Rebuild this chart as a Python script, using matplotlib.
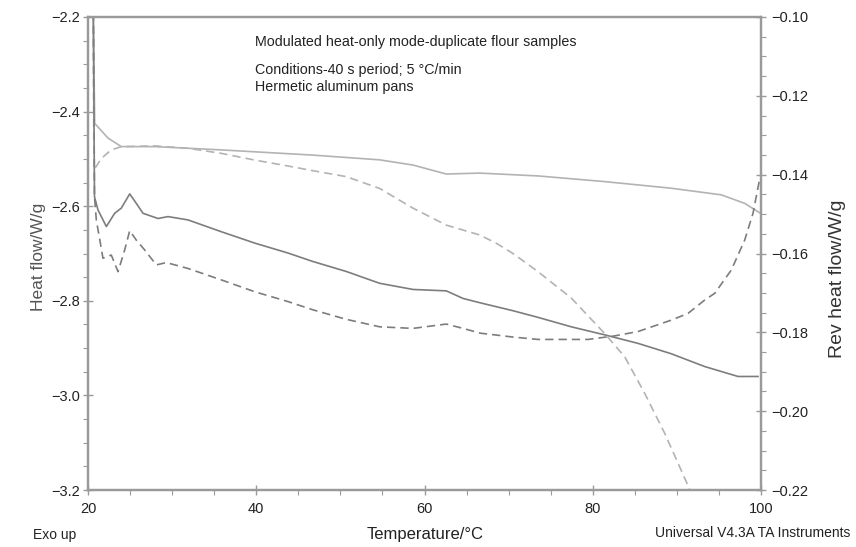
import matplotlib
matplotlib.use("Agg")
import matplotlib.pyplot as plt
from matplotlib.ticker import MultipleLocator

plt.rcParams['font.family'] = ['Liberation Sans', 'DejaVu Sans']

# ---- data ----
# Sample A, heat flow (left axis, solid light)
temp_hf_a = [20.55, 20.80, 22.38, 23.96, 27.93, 35.85, 46.75, 54.67, 58.63, 62.59,
             66.56, 73.49, 81.42, 89.34, 95.28, 98.06, 99.85]
hf_a = [-2.10, -2.425, -2.456, -2.474, -2.474, -2.481, -2.492, -2.502, -2.513, -2.532,
        -2.530, -2.536, -2.548, -2.562, -2.576, -2.594, -2.614]

# Sample B, heat flow (left axis, solid dark)
temp_hf_b = [20.60, 20.77, 21.19, 22.18, 23.17, 23.96, 24.96, 25.74, 26.54, 28.32,
             29.51, 31.89, 35.85, 39.82, 43.77, 46.75, 50.70, 54.67, 58.63, 62.59,
             64.58, 66.56, 70.52, 73.49, 77.45, 81.42, 85.38, 89.34, 93.31, 97.27, 99.64]
hf_b = [-2.10, -2.580, -2.608, -2.643, -2.615, -2.604, -2.574, -2.594, -2.615, -2.626,
        -2.622, -2.629, -2.654, -2.678, -2.699, -2.717, -2.738, -2.763, -2.776, -2.779,
        -2.795, -2.804, -2.821, -2.835, -2.855, -2.872, -2.890, -2.912, -2.939, -2.960, -2.960]

# Sample A, reversing heat flow (right axis, dashed light)
temp_rev_a = [20.58, 20.71, 21.58, 22.77, 23.96, 27.93, 31.89, 35.85, 39.82, 43.77,
              46.75, 50.70, 54.67, 58.63, 62.59, 66.56, 68.54, 70.52, 73.49, 77.45,
              81.42, 83.80, 86.18, 88.55, 90.14, 91.72]
rev_a = [-0.090, -0.1388, -0.1359, -0.1337, -0.1329, -0.1327, -0.1333, -0.1346, -0.1363, -0.1378,
         -0.1390, -0.1405, -0.1435, -0.1485, -0.1528, -0.1553, -0.1574, -0.1600, -0.1646, -0.1713,
         -0.1803, -0.1862, -0.1955, -0.2056, -0.2132, -0.2208]

# Sample B, reversing heat flow (right axis, dashed dark)
temp_rev_b = [20.62, 20.77, 20.99, 21.78, 22.77, 23.57, 24.36, 24.96, 25.74, 26.74,
              28.12, 29.31, 31.89, 35.85, 39.82, 43.77, 46.75, 50.70, 54.67, 58.63,
              62.59, 64.58, 66.60, 70.52, 73.49, 79.44, 82.61, 85.38, 89.34, 91.32,
              93.31, 94.50, 96.47, 98.06, 99.05, 99.85]
rev_b = [-0.090, -0.1456, -0.1515, -0.1612, -0.1604, -0.1646, -0.1591, -0.1542, -0.1566, -0.1591,
         -0.1629, -0.1623, -0.1638, -0.1667, -0.1697, -0.1722, -0.1743, -0.1767, -0.1786, -0.1790,
         -0.1779, -0.1790, -0.1802, -0.1812, -0.1818, -0.1818, -0.1809, -0.1798, -0.1769, -0.1752,
         -0.1718, -0.1701, -0.1642, -0.1566, -0.1498, -0.1410]

x_ticks = [20, 40, 60, 80, 100]
left_ticks = [-2.2, -2.4, -2.6, -2.8, -3.0, -3.2]
right_ticks = [-0.10, -0.12, -0.14, -0.16, -0.18, -0.20, -0.22]

notes = ["Modulated heat-only mode-duplicate flour samples",
         "Conditions-40 s period; 5 \u00b0C/min",
         "Hermetic aluminum pans"]

# ---- figure ----
W, H = 856, 547
fig = plt.figure(figsize=(W/100, H/100), dpi=100)
ax = fig.add_axes([88/W, 1-490/H, (761-88)/W, (490-17)/H])
ax2 = ax.twinx()

light = '#b3b3b3'
dark = '#7d7d7d'
dash = (0, (5, 3))

ax.plot(temp_hf_a, hf_a, color=light, lw=1.2, zorder=3)
ax.plot(temp_hf_b, hf_b, color=dark, lw=1.2, zorder=3)
ax2.plot(temp_rev_a, rev_a, color=light, lw=1.2, ls=dash)
ax2.plot(temp_rev_b, rev_b, color=dark, lw=1.2, ls=dash)

ax.set_xlim(20, 100)
ax.set_ylim(-3.2, -2.2)
ax2.set_ylim(-0.22, -0.10)

ax.set_xticks(x_ticks)
ax.set_yticks(left_ticks)
ax.set_yticklabels([f"{t:.1f}".replace('-', '\u2212') for t in left_ticks])
ax2.set_yticks(right_ticks)
ax2.set_yticklabels([f"{t:.2f}".replace('-', '\u2212') for t in right_ticks])
ax.xaxis.set_minor_locator(MultipleLocator(5))
ax.yaxis.set_minor_locator(MultipleLocator(0.05))
ax2.yaxis.set_minor_locator(MultipleLocator(0.005))

spine_c = '#9a9a9a'
for a in (ax, ax2):
    for s in a.spines.values():
        s.set_color(spine_c)
        s.set_linewidth(1.6)
    a.tick_params(which='major', direction='inout', length=7, width=1.0, color=spine_c,
                  labelsize=10.5, labelcolor='#222222', pad=2.5)
    a.tick_params(which='minor', direction='out', length=3.5, width=0.8, color=spine_c)
ax.tick_params(axis='x', pad=5)
ax2.tick_params(axis='y', pad=4)

fig.text(39/W, 1-257/H, "Heat flow/W/g", fontsize=12.5, rotation=90, ha='center', va='center',
         color='#555555')
fig.text(838/W, 1-279/H, "Rev heat flow/W/g", fontsize=14, rotation=90, ha='center',
         va='center', color='#333333')

fig.text(425/W, 1-535/H, "Temperature/\u00b0C", fontsize=12, ha='center', va='center',
         color='#222222')
fig.text(33/W, 1-535/H, "Exo up", fontsize=10, ha='left', va='center', color='#222222')
fig.text(850/W, 1-533/H, "Universal V4.3A TA Instruments", fontsize=10, ha='right',
         va='center', color='#222222')

for txt, yc in zip(notes, [41.7, 70.0, 86.7]):
    fig.text(255/W, 1-yc/H, txt, fontsize=10.3, ha='left', va='center', color='#222222')

fig.savefig("out.png", dpi=100)
